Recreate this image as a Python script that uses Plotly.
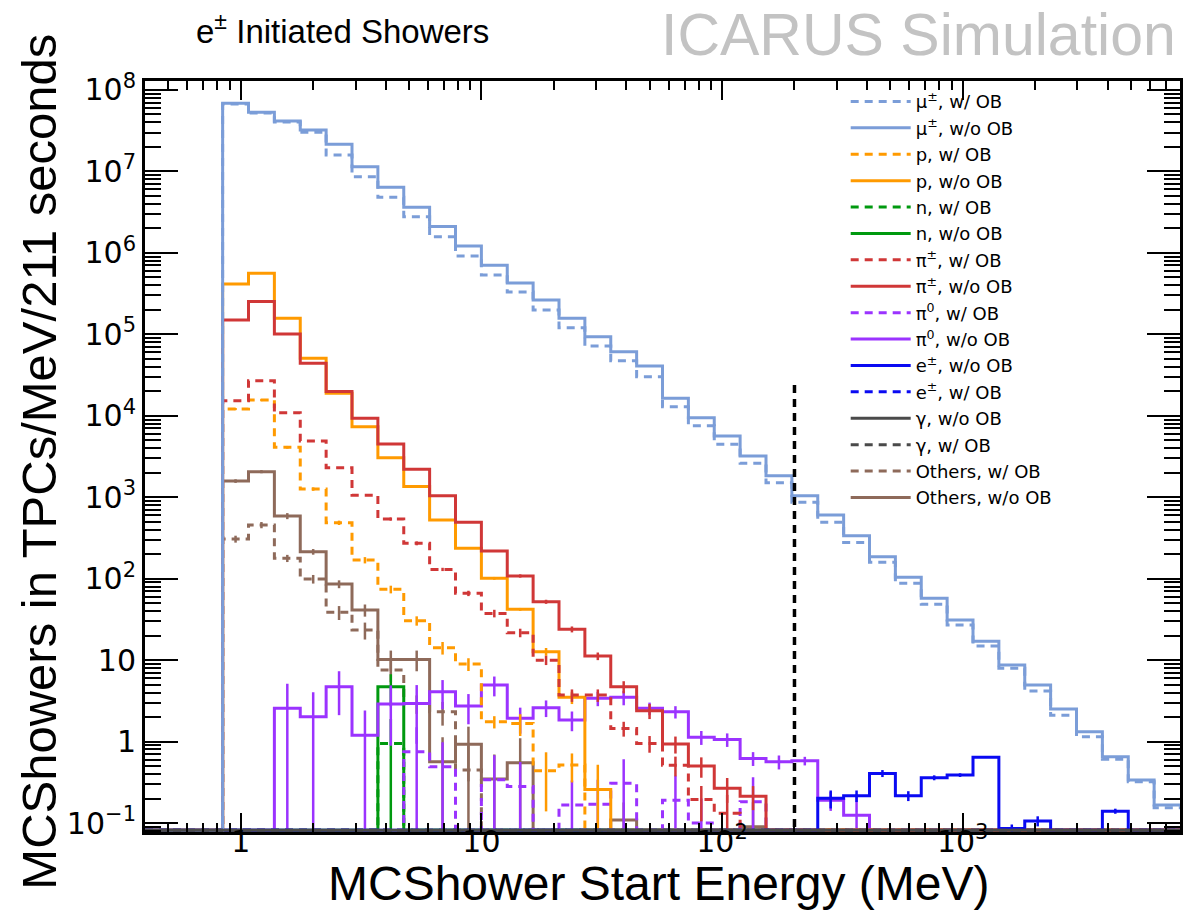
import numpy as np
import plotly.graph_objects as go

# ---- binning: 40 log-spaced bins between 0.4 MeV and 8 GeV ----
N_BINS = 40
E_MIN, E_MAX = 0.4, 8000.0
edges = np.logspace(np.log10(E_MIN), np.log10(E_MAX), N_BINS + 1)
centers = np.sqrt(edges[:-1] * edges[1:])

# ---- bin contents (MCShowers / MeV / 211 s), bins 0..39 ----
mu_wob = [0, 0, 0, 6.73e7, 5.22e7, 4.05e7, 3.03e7, 1.59e7, 8.61e6, 4.81e6,
          2.78e6, 1.58e6, 9.16e5, 5.35e5, 3.31e5, 1.99e5, 1.20e5, 7.19e4, 4.75e4, 3.02e4,
          1.29e4, 7.55e3, 4.47e3, 2.61e3, 1.51e3, 869, 492, 279, 159, 87.7,
          48.4, 27.0, 14.9, 7.93, 4.17, 2.11, 1.15, 0.605, 0.321, 0.154]
mu_woob = [0, 0, 0, 6.87e7, 5.32e7, 4.16e7, 3.23e7, 2.15e7, 1.14e7, 6.38e6,
           3.63e6, 2.10e6, 1.21e6, 7.04e5, 4.27e5, 2.64e5, 1.58e5, 9.35e4, 6.12e4, 4.08e4,
           1.64e4, 9.46e3, 5.64e3, 3.20e3, 1.84e3, 1.04e3, 604, 336, 186, 104,
           57.4, 31.0, 17.1, 8.7, 4.94, 2.51, 1.32, 0.652, 0.337, 0.166]
p_wob = [0, 0, 0, 1.21e4, 1.56e4, 4.10e3, 1.26e3, 486, 169, 74.0,
         30.5, 14.2, 8.95, 1.75, 1.67, 0.439, 0.515, 0, 0, 0,
         0, 0, 0, 0, 0, 0, 0, 0, 0, 0,
         0, 0, 0, 0, 0, 0, 0, 0, 0, 0]
p_woob = [0, 0, 0, 4.15e5, 5.61e5, 1.57e5, 5.08e4, 1.89e4, 7.35e3, 3.06e3,
          1.35e3, 525, 236, 101, 42.0, 12.7, 3.49, 0.259, 0, 0,
          0, 0, 0, 0, 0, 0, 0, 0, 0, 0,
          0, 0, 0, 0, 0, 0, 0, 0, 0, 0]
n_wob = [0, 0, 0, 0, 0, 0, 0, 0, 0, 0.95,
         0, 0, 0, 0, 0, 0, 0, 0, 0, 0,
         0, 0, 0, 0, 0, 0, 0, 0, 0, 0,
         0, 0, 0, 0, 0, 0, 0, 0, 0, 0]
n_woob = [0, 0, 0, 0, 0, 0, 0, 0, 0, 4.71,
          0, 0, 0, 0, 0, 0, 0, 0, 0, 0,
          0, 0, 0, 0, 0, 0, 0, 0, 0, 0,
          0, 0, 0, 0, 0, 0, 0, 0, 0, 0]
pic_wob = [0, 0, 0, 1.53e4, 2.70e4, 1.09e4, 4.90e3, 2.30e3, 1.06e3, 540,
           272, 130, 66.1, 37.5, 21.7, 10.0, 3.72, 3.72, 1.45, 0.95,
           0.514, 0.195, 0.132, 0, 0, 0, 0, 0, 0, 0,
           0, 0, 0, 0, 0, 0, 0, 0, 0, 0]
pic_woob = [0, 0, 0, 1.50e5, 2.52e5, 1.01e5, 4.41e4, 1.98e4, 9.31e3, 4.50e3,
            2.20e3, 1.04e3, 492, 218, 108, 52.1, 23.9, 11.2, 4.71, 2.39,
            0.933, 0.500, 0.267, 0.214, 0, 0, 0, 0, 0, 0,
            0, 0, 0, 0, 0, 0, 0, 0, 0, 0]
pi0_wob = [0, 0, 0, 0, 0, 0, 0, 0, 0, 0,
           0.75, 0.49, 0, 0.34, 0.28, 0, 0.166, 0.17, 0.307, 0,
           0.19, 0.10, 0, 0.183, 0, 0, 0, 0, 0, 0,
           0, 0, 0, 0, 0, 0, 0, 0, 0, 0]
pi0_woob = [0, 0, 0, 0, 0, 2.56, 2.02, 4.71, 1.20, 2.89,
            2.94, 4.09, 2.73, 4.94, 1.93, 2.60, 1.84, 3.40, 3.49, 2.56,
            2.32, 1.13, 1.06, 0.622, 0.565, 0.58, 0.191, 0.125, 0, 0,
            0, 0, 0, 0, 0, 0, 0, 0, 0, 0]
e_woob = [0, 0, 0, 0, 0, 0, 0, 0, 0, 0,
          0, 0, 0, 0, 0, 0, 0, 0, 0, 0,
          0, 0, 0, 0, 0, 0, 0.201, 0.216, 0.407, 0.216,
          0.360, 0.388, 0.640, 0.086, 0.106, 0, 0, 0.140, 0, 0]
e_wob = [0, 0, 0, 0, 0, 0, 0, 0, 0, 0,
         0, 0, 0, 0, 0, 0, 0, 0, 0, 0,
         0, 0, 0, 0, 0, 0, 0, 0, 0, 0,
         0, 0, 0, 0, 0, 0, 0, 0, 0, 0]
gam_woob = [0, 0, 0, 0, 0, 0, 0, 0, 0, 0,
            0, 0, 0, 0, 0, 0, 0, 0, 0, 0,
            0, 0, 0, 0, 0, 0, 0, 0, 0, 0,
            0, 0, 0, 0, 0, 0, 0, 0, 0, 0]
gam_wob = [0, 0, 0, 0, 0, 0, 0, 0, 0, 0,
           0, 0, 0, 0, 0, 0, 0, 0, 0, 0,
           0, 0, 0, 0, 0, 0, 0, 0, 0, 0,
           0, 0, 0, 0, 0, 0, 0, 0, 0, 0]
oth_wob = [0, 0, 0, 307, 456, 178, 99.1, 38.6, 23.4, 7.55,
           2.94, 2.32, 0.447, 0, 0, 0, 0, 0, 0, 0,
           0, 0, 0, 0, 0, 0, 0, 0, 0, 0,
           0, 0, 0, 0, 0, 0, 0, 0, 0, 0]
oth_woob = [0, 0, 0, 1.58e3, 2.06e3, 588, 214, 85.9, 41.2, 10.2,
            10.2, 0.565, 0.925, 0.347, 0.549, 0, 0, 0, 0.109, 0,
            0, 0, 0, 0.090, 0, 0, 0, 0, 0, 0,
            0, 0, 0, 0, 0, 0, 0, 0, 0, 0]

# ---- statistical uncertainties (0 = no visible bar) ----
p_wob_err = [0, 0, 0, 360, 470, 160, 60, 30, 15, 8,
             4, 2.5, 1.6, 0.3, 0.5, 0.3, 0.2, 0, 0, 0,
             0, 0, 0, 0, 0, 0, 0, 0, 0, 0,
             0, 0, 0, 0, 0, 0, 0, 0, 0, 0]
p_woob_err = [0, 0, 0, 0, 0, 0, 0, 0, 0, 0,
              0, 0, 0, 4, 1.7, 1.4, 0.6, 0.259, 0, 0,
              0, 0, 0, 0, 0, 0, 0, 0, 0, 0,
              0, 0, 0, 0, 0, 0, 0, 0, 0, 0]
n_wob_err = [0, 0, 0, 0, 0, 0, 0, 0, 0, 0.95,
             0, 0, 0, 0, 0, 0, 0, 0, 0, 0,
             0, 0, 0, 0, 0, 0, 0, 0, 0, 0,
             0, 0, 0, 0, 0, 0, 0, 0, 0, 0]
n_woob_err = [0, 0, 0, 0, 0, 0, 0, 0, 0, 2.0,
              0, 0, 0, 0, 0, 0, 0, 0, 0, 0,
              0, 0, 0, 0, 0, 0, 0, 0, 0, 0,
              0, 0, 0, 0, 0, 0, 0, 0, 0, 0]
pic_wob_err = [0, 0, 0, 0, 0, 0, 0, 0, 0, 25,
               15, 6, 5, 4, 2.6, 1.3, 0.65, 0.65, 0.3, 0.22,
               0.14, 0.09, 0.09, 0, 0, 0, 0, 0, 0, 0,
               0, 0, 0, 0, 0, 0, 0, 0, 0, 0]
pic_woob_err = [0, 0, 0, 0, 0, 0, 0, 0, 0, 0,
                0, 0, 0, 0, 5, 3, 2, 1.2, 0.8, 0.5,
                0.22, 0.14, 0.09, 0.07, 0, 0, 0, 0, 0, 0,
                0, 0, 0, 0, 0, 0, 0, 0, 0, 0]
pi0_wob_err = [0, 0, 0, 0, 0, 0, 0, 0, 0, 0,
               0.75, 0.49, 0, 0.34, 0.28, 0, 0.166, 0.17, 0.3, 0,
               0.19, 0.10, 0, 0.183, 0, 0, 0, 0, 0, 0,
               0, 0, 0, 0, 0, 0, 0, 0, 0, 0]
pi0_woob_err = [0, 0, 0, 0, 0, 2.56, 2.02, 2.6, 1.20, 2.0,
                2.0, 1.6, 1.1, 1.35, 0.68, 0.6, 0.5, 0.68, 0.7, 0.45,
                0.4, 0.22, 0.2, 0.12, 0.11, 0.07, 0.05, 0.1, 0, 0,
                0, 0, 0, 0, 0, 0, 0, 0, 0, 0]
e_woob_err = [0, 0, 0, 0, 0, 0, 0, 0, 0, 0,
              0, 0, 0, 0, 0, 0, 0, 0, 0, 0,
              0, 0, 0, 0, 0, 0, 0.05, 0.035, 0.04, 0.03,
              0.025, 0.02, 0.01, 0.01, 0.015, 0, 0, 0.01, 0, 0]
oth_wob_err = [0, 0, 0, 30, 40, 18, 12, 7.5, 5.5, 2.2,
               0.75, 0.75, 0.447, 0, 0, 0, 0, 0, 0, 0,
               0, 0, 0, 0, 0, 0, 0, 0, 0, 0,
               0, 0, 0, 0, 0, 0, 0, 0, 0, 0]
oth_woob_err = [0, 0, 0, 80, 90, 50, 17, 9.5, 7, 2.9,
                2.9, 0.565, 0.6, 0.347, 0.549, 0, 0, 0, 0.07, 0,
                0, 0, 0, 0.09, 0, 0, 0, 0, 0, 0,
                0, 0, 0, 0, 0, 0, 0, 0, 0, 0]

# vertical marker at the 200 MeV energy cut
cut_energy = 200.0
cut_top = 2.6e4

# ---- axes ----
Y_LOG_RANGE = [-1.11, 8.11]
FLOOR = 10 ** (Y_LOG_RANGE[0] + 0.02)   # empty bins are drawn along the frame bottom
x_tickvals = [1, 10, 100, 1000]
x_ticktext = ["1", "10", "10<sup>2</sup>", "10<sup>3</sup>"]
y_tickvals = [0.1, 1, 10, 100, 1e3, 1e4, 1e5, 1e6, 1e7, 1e8]
y_ticktext = ["10<sup>\u22121</sup>", "1", "10", "10<sup>2</sup>", "10<sup>3</sup>",
              "10<sup>4</sup>", "10<sup>5</sup>", "10<sup>6</sup>", "10<sup>7</sup>", "10<sup>8</sup>"]
x_minor = [m * 10.0 ** k for k in range(-1, 4) for m in range(2, 10) if E_MIN <= m * 10.0 ** k <= E_MAX]
y_minor = [m * 10.0 ** k for k in range(-2, 9) for m in range(2, 10)]

C_MU, C_P, C_N, C_PIC = "#7B9DD8", "#FF9A00", "#00990F", "#D03737"
C_PI0, C_E, C_GAM, C_OTH = "#9B33FF", "#0A0AF2", "#4A4A4A", "#8E6A5A"
DASH = "8px,6px"
LW = 3

# (legend label, contents, errors, colour, dashed, legend position)
series = [
    ("Others, w/ OB", oth_wob, oth_wob_err, C_OTH, True, 15),
    ("Others, w/o OB", oth_woob, oth_woob_err, C_OTH, False, 16),
    ("n, w/ OB", n_wob, n_wob_err, C_N, True, 5),
    ("n, w/o OB", n_woob, n_woob_err, C_N, False, 6),
    ("\u03c0<sup>0</sup>, w/ OB", pi0_wob, pi0_wob_err, C_PI0, True, 9),
    ("\u03c0<sup>0</sup>, w/o OB", pi0_woob, pi0_woob_err, C_PI0, False, 10),
    ("p, w/ OB", p_wob, p_wob_err, C_P, True, 3),
    ("p, w/o OB", p_woob, p_woob_err, C_P, False, 4),
    ("\u03c0<sup>\u00b1</sup>, w/ OB", pic_wob, pic_wob_err, C_PIC, True, 7),
    ("\u03c0<sup>\u00b1</sup>, w/o OB", pic_woob, pic_woob_err, C_PIC, False, 8),
    ("e<sup>\u00b1</sup>, w/o OB", e_woob, e_woob_err, C_E, False, 11),
    ("\u03bc<sup>\u00b1</sup>, w/ OB", mu_wob, None, C_MU, True, 1),
    ("\u03bc<sup>\u00b1</sup>, w/o OB", mu_woob, None, C_MU, False, 2),
    ("e<sup>\u00b1</sup>, w/ OB", e_wob, None, C_E, True, 12),
    ("\u03b3, w/ OB", gam_wob, None, C_GAM, True, 14),
    ("\u03b3, w/o OB", gam_woob, None, C_GAM, False, 13),
]

fig = go.Figure()
for label, vals, errs, color, dashed, rank in series:
    yv = [v if v > 0 else FLOOR for v in vals]
    fig.add_trace(go.Scatter(
        x=list(edges), y=yv + [yv[-1]], mode="lines", line_shape="hv",
        line=dict(color=color, width=LW, dash=DASH if dashed else "solid"),
        name=label, legendrank=rank, hoverinfo="skip"))
    if errs is not None:
        idx = [i for i in range(N_BINS) if errs[i] > 0 and vals[i] > 0]
        fig.add_trace(go.Scatter(
            x=[centers[i] for i in idx], y=[vals[i] for i in idx], mode="markers",
            marker=dict(size=0.1, color=color),
            error_y=dict(type="data", array=[errs[i] for i in idx], color=color,
                         thickness=2.5, width=0),
            showlegend=False, hoverinfo="skip"))

fig.add_trace(go.Scatter(
    x=[cut_energy, cut_energy], y=[FLOOR / 2, cut_top], mode="lines",
    line=dict(color="black", width=3.5, dash="8px,6px"),
    showlegend=False, hoverinfo="skip"))

axis_common = dict(
    showgrid=False, zeroline=False, showline=True, linewidth=3, linecolor="black",
    mirror="ticks", ticks="inside", tickcolor="black", tickmode="array",
)
fig.update_xaxes(
    type="log", range=[np.log10(E_MIN), np.log10(E_MAX)],
    tickvals=x_tickvals, ticktext=x_ticktext, ticklen=19, tickwidth=2,
    ticklabelstandoff=-19,
    tickfont=dict(family="DejaVu Sans", size=30, color="black"),
    minor=dict(ticks="inside", ticklen=9, tickwidth=1.5, tickcolor="black",
               tickmode="array", tickvals=x_minor),
    **axis_common)
fig.update_yaxes(
    type="log", range=Y_LOG_RANGE,
    tickvals=y_tickvals, ticktext=y_ticktext, ticklen=33, tickwidth=2,
    tickfont=dict(family="DejaVu Sans", size=30, color="black"),
    minor=dict(ticks="inside", ticklen=16, tickwidth=1.5, tickcolor="black",
               tickmode="array", tickvals=y_minor),
    **axis_common)

fig.update_layout(
    width=1184, height=923,
    margin=dict(l=145, r=1, t=81, b=91),
    paper_bgcolor="white", plot_bgcolor="white",
    showlegend=True,
    legend=dict(x=0.677, y=0.997, xanchor="left", yanchor="top",
                bgcolor="rgba(0,0,0,0)", borderwidth=0, itemwidth=60,
                tracegroupgap=0, font=dict(family="DejaVu Sans", size=18, color="black")),
    annotations=[
        # axis titles
        dict(text="MCShower Start Energy (MeV)", xref="paper", yref="paper",
             x=0.497, y=-0.068, xanchor="center", yanchor="middle", showarrow=False,
             font=dict(family="Liberation Sans", size=48, color="black")),
        dict(text="MCShowers in TPCs/MeV/211 seconds", xref="paper", yref="paper",
             x=-0.1025, y=0.493, xanchor="center", yanchor="middle", showarrow=False,
             textangle=-90,
             font=dict(family="Liberation Sans", size=49, color="black")),
        # header texts
        dict(text="e<sup>\u00b1</sup> Initiated Showers", xref="paper", yref="paper",
             x=0.047, y=1.069, xanchor="left", yanchor="middle", showarrow=False,
             font=dict(family="Liberation Sans", size=33, color="black")),
        dict(text="ICARUS Simulation", xref="paper", yref="paper",
             x=0.998, y=1.061, xanchor="right", yanchor="middle", showarrow=False,
             font=dict(family="Liberation Sans", size=59, color="#C3C3C3")),
    ],
)

fig.write_html("out.html")
